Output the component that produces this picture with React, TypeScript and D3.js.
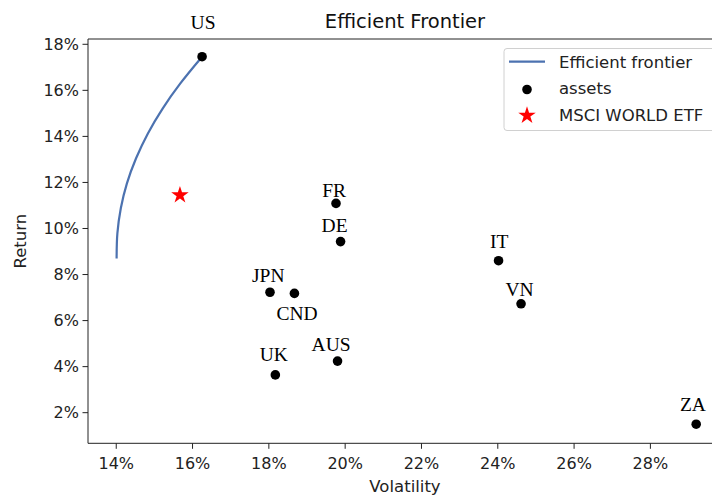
import React from "react";
import * as d3 from "d3";

// Country equity indices: annualised volatility (%) and return (%)
const assetNames = ["US", "FR", "DE", "JPN", "CND", "UK", "AUS", "IT", "VN", "ZA"];
const assetVol = [16.25, 19.76, 19.88, 18.03, 18.67, 18.17, 19.8, 24.02, 24.61, 29.2];
const assetRet = [17.46, 11.09, 9.43, 7.23, 7.18, 3.64, 4.24, 8.6, 6.73, 1.5];
// Annotation offsets (px) of each country label from its marker
const labelDx = [1, -1.8, -6, -1.7, 2.7, -1.5, -6.4, 0.6, -1.5, -3.3];
const labelDy = [-27.4, -6.6, -10, -10, 26.7, -14.3, -10.3, -12.7, -8, -13.6];

// Efficient frontier (volatility %, return %)
const frontierVol = [14.01, 14.03, 14.12, 14.28, 14.52, 14.83, 15.22, 15.68, 16.25];
const frontierRet = [8.7, 9.79, 10.88, 11.96, 13.05, 14.13, 15.22, 16.3, 17.46];

// Benchmark
const etfVol = 15.67;
const etfRet = 11.45;

const xTicks = [14, 16, 18, 20, 22, 24, 26, 28];
const yTicks = [2, 4, 6, 8, 10, 12, 14, 16, 18];

const W = 712;
const H = 498;
const SANS = "'DejaVu Sans', sans-serif";
const SERIF = "'Liberation Serif', 'Times New Roman', serif";
const LINE_COLOR = "#4c72b0";

export default function App() {
  const left = 88, right = 729, top = 39, bottom = 443.3;
  const x = d3.scaleLinear().domain([13.26, 30.06]).range([left, right]);
  const y = d3.scaleLinear().domain([0.67, 18.23]).range([bottom, top]);

  const frontier = frontierVol.map((v, i) => [v, frontierRet[i]] as [number, number]);
  const linePath = d3
    .line<[number, number]>()
    .x((d) => x(d[0]))
    .y((d) => y(d[1]))
    .curve(d3.curveCatmullRom.alpha(0.5))(frontier) as string;

  const star = d3.symbol().type(d3.symbolStar).size(95)() as string;

  const legendX = 504;
  const legendY = 48.5;

  return (
    <svg
      width={W}
      height={H}
      style={{ position: "absolute", left: 0, top: 0, background: "#fff" }}
    >
      {/* title */}
      <text x={405} y={28} textAnchor="middle" fontFamily={SANS} fontSize={19.5} fill="#111">
        Efficient Frontier
      </text>

      {/* frontier curve */}
      <path d={linePath} fill="none" stroke={LINE_COLOR} strokeWidth={2.2} />

      {/* assets */}
      {assetNames.map((n, i) => (
        <circle key={n} cx={x(assetVol[i])} cy={y(assetRet[i])} r={4.8} fill="#000" />
      ))}

      {/* benchmark star */}
      <path d={star} transform={`translate(${x(etfVol)},${y(etfRet)})`} fill="red" />

      {/* country labels */}
      {assetNames.map((n, i) => (
        <text
          key={"l" + n}
          x={x(assetVol[i]) + labelDx[i]}
          y={y(assetRet[i]) + labelDy[i]}
          textAnchor="middle"
          fontFamily={SERIF}
          fontSize={19.5}
          fill="#000"
        >
          {n}
        </text>
      ))}

      {/* axes spines */}
      <line x1={left} x2={right} y1={top} y2={top} stroke="#222" strokeWidth={1} />
      <line x1={left} x2={right} y1={bottom} y2={bottom} stroke="#222" strokeWidth={1} />
      <line x1={left} x2={left} y1={top} y2={bottom} stroke="#222" strokeWidth={1} />

      {/* x axis */}
      {xTicks.map((t) => (
        <g key={"x" + t}>
          <line x1={x(t)} x2={x(t)} y1={bottom} y2={bottom + 5.5} stroke="#222" strokeWidth={1} />
          <text x={x(t)} y={bottom + 26} textAnchor="middle" fontFamily={SANS} fontSize={16} fill="#222">
            {`${t}%`}
          </text>
        </g>
      ))}
      <text x={405} y={492} textAnchor="middle" fontFamily={SANS} fontSize={16.5} fill="#222">
        Volatility
      </text>

      {/* y axis */}
      {yTicks.map((t) => (
        <g key={"y" + t}>
          <line x1={left - 5.5} x2={left} y1={y(t)} y2={y(t)} stroke="#222" strokeWidth={1} />
          <text
            x={left - 9}
            y={y(t)}
            dy="0.36em"
            textAnchor="end"
            fontFamily={SANS}
            fontSize={16}
            fill="#222"
          >
            {`${t}%`}
          </text>
        </g>
      ))}
      <text
        transform={`translate(26,${(top + bottom) / 2}) rotate(-90)`}
        textAnchor="middle"
        fontFamily={SANS}
        fontSize={16.5}
        fill="#222"
      >
        Return
      </text>

      {/* legend */}
      <g>
        <rect
          x={legendX}
          y={legendY}
          width={215}
          height={82}
          rx={3}
          fill="#fff"
          fillOpacity={0.8}
          stroke="#d0d0d0"
          strokeWidth={1}
        />
        <line x1={509} x2={545} y1={61.7} y2={61.7} stroke={LINE_COLOR} strokeWidth={2.2} />
        <text x={559} y={67.7} fontFamily={SANS} fontSize={16.5} fill="#222">
          Efficient frontier
        </text>
        <circle cx={527} cy={89.5} r={4.8} fill="#000" />
        <text x={559} y={93.5} fontFamily={SANS} fontSize={16.5} fill="#222">
          assets
        </text>
        <path d={star} transform="translate(527,115.5)" fill="red" />
        <text x={559} y={120.5} fontFamily={SANS} fontSize={16.5} fill="#222">
          MSCI WORLD ETF
        </text>
      </g>
    </svg>
  );
}
